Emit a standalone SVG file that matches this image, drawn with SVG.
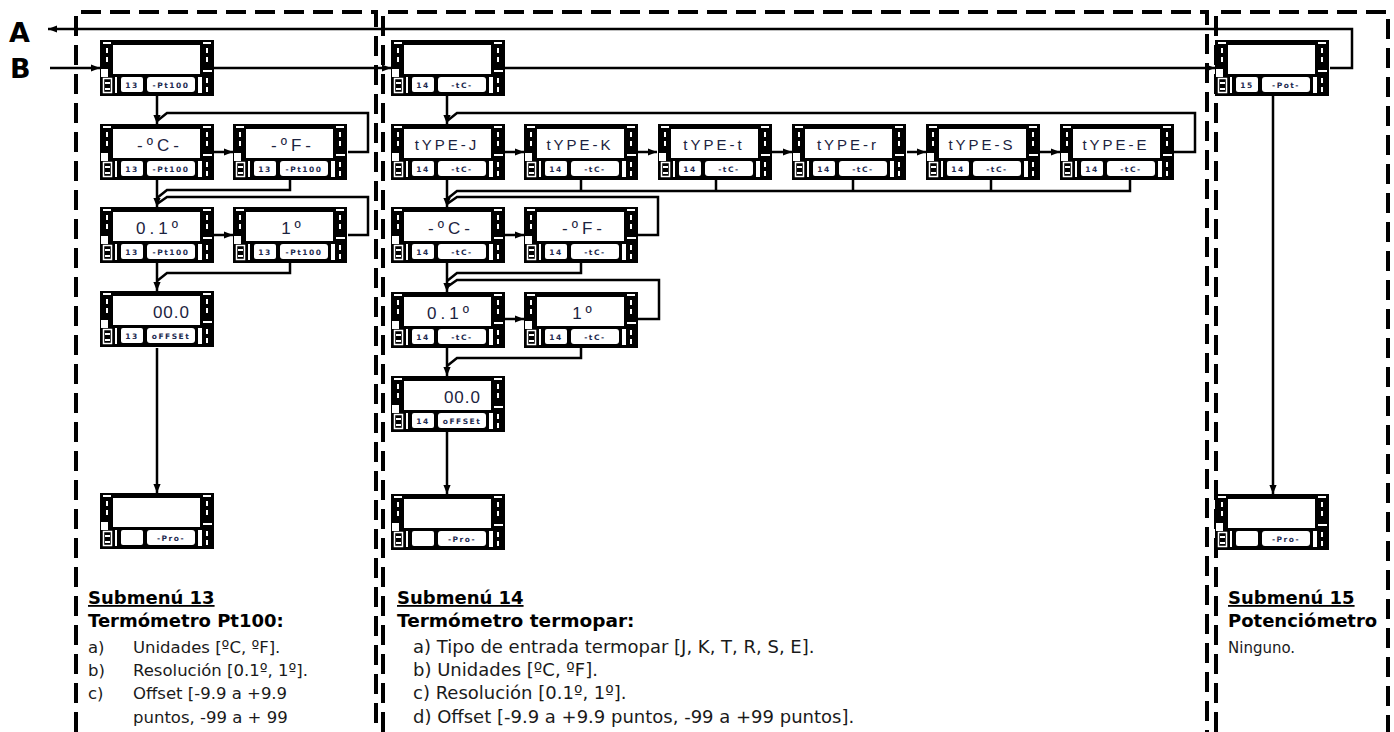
<svg xmlns="http://www.w3.org/2000/svg" xmlns:xlink="http://www.w3.org/1999/xlink" width="1394" height="732" viewBox="0 0 1394 732">
<style>
.frame{fill:none;stroke:#000;stroke-width:4;stroke-dasharray:20 9}
.c{fill:none;stroke:#000;stroke-width:2.5}
.a{marker-end:url(#ah)}
.dt{font-family:"Liberation Sans",Arial,sans-serif;font-size:15px;letter-spacing:3px;fill:#1c2340;text-anchor:middle}
.dv{font-family:"Liberation Sans",Arial,sans-serif;font-size:17px;letter-spacing:4px;fill:#1c2340;text-anchor:middle}
.dn{font-family:"Liberation Sans",Arial,sans-serif;font-size:17px;letter-spacing:1px;fill:#1c2340;text-anchor:end}
.lt{font-family:"DejaVu Sans",sans-serif;font-weight:bold;font-size:7.5px;letter-spacing:1.5px;fill:#1c2a50;text-anchor:middle}
.big{font-family:"DejaVu Sans",sans-serif;font-weight:bold;font-size:27px;fill:#000}
.h{font-family:"DejaVu Sans",sans-serif;font-weight:bold;font-size:18px;fill:#000}
.u{text-decoration:underline}
.t{font-family:"DejaVu Sans",sans-serif;font-size:16.5px;fill:#1a1a1a}
.tm{font-family:"DejaVu Sans",sans-serif;font-size:18px;fill:#1a1a1a}
</style>
<defs>
<marker id="ah" viewBox="0 0 10 10" refX="10" refY="5" markerWidth="9" markerHeight="9" markerUnits="userSpaceOnUse" orient="auto">
<path d="M0,1 L10,5 L0,9 z" fill="#000"/>
</marker>
<g id="disp">
<rect width="114" height="56" fill="#000"/>
<rect x="13" y="5" width="87" height="29" fill="#fff"/>
<rect x="3" y="2" width="8" height="2" fill="#fff"/>
<rect x="6" y="8" width="2" height="5" fill="#fff"/>
<rect x="6" y="17" width="2" height="5" fill="#fff"/>
<rect x="1" y="29" width="7" height="8" fill="#fff"/>
<rect x="3.5" y="38.5" width="8" height="14" fill="none" stroke="#fff" stroke-width="1.5"/>
<rect x="5" y="42" width="5" height="2" fill="#fff"/>
<rect x="5" y="48" width="5" height="2" fill="#fff"/>
<rect x="15" y="37" width="2" height="16" fill="#fff"/>
<rect x="21" y="37" width="22" height="15" rx="2" fill="#fff"/>
<rect x="47" y="37" width="48" height="15" rx="3" fill="#fff"/>
<rect x="98" y="37" width="4" height="16" fill="#fff"/>
<rect x="103" y="2" width="8" height="2" fill="#fff"/>
<rect x="106" y="8" width="2" height="5" fill="#fff"/>
<rect x="106" y="17" width="2" height="5" fill="#fff"/>
<rect x="103" y="30" width="9" height="2" fill="#fff"/>
<rect x="106" y="38" width="2" height="5" fill="#fff"/>
<rect x="106" y="47" width="2" height="5" fill="#fff"/>
</g>
</defs>
<rect width="1394" height="732" fill="#fff"/>

<g id="frames">
<path class="frame" d="M76,732 V12 H376 V732"/>
<path class="frame" d="M383,732 V12 H1207 V732"/>
<path class="frame" d="M1216,732 V12 H1388 V732"/>
</g>

<g id="labels-AB">
<text class="big" x="9" y="42">A</text>
<text class="big" x="10" y="78">B</text>
</g>

<g id="connectors">
<path class="c a" d="M1330,68 H1352 V29 H48"/>
<path class="c a" d="M50,68 H100"/>
<path class="c a" d="M214,68 H391"/>
<path class="c a" d="M504,68 H1215"/>
<!-- column 13 -->
<path class="c a" d="M157,96 V124"/>
<path class="c a" d="M214,152 H233"/>
<path class="c" d="M348,152 H368 V113 H167 L157,121"/>
<path class="c a" d="M157,180 V207"/>
<path class="c" d="M290,180 V190 H167 L157,198"/>
<path class="c a" d="M214,235 H233"/>
<path class="c" d="M348,235 H368 V197 H167 L157,204"/>
<path class="c a" d="M157,263 V291"/>
<path class="c" d="M290,263 V273 H167 L157,281"/>
<path class="c a" d="M157,348 V493"/>
<!-- column 14 -->
<path class="c a" d="M447,96 V124"/>
<path class="c a" d="M504,152 H524"/>
<path class="c a" d="M638,152 H657"/>
<path class="c a" d="M772,152 H792"/>
<path class="c a" d="M907,152 H926"/>
<path class="c a" d="M1039,152 H1060"/>
<path class="c" d="M1173,152 H1195 V113 H457 L447,121"/>
<path class="c a" d="M447,180 V207"/>
<path class="c" d="M1130,180 V191 H457 L447,199"/>
<path class="c" d="M581,180 V191 M716,180 V191 M853,180 V191 M991,180 V191"/>
<path class="c a" d="M504,235 H524"/>
<path class="c" d="M638,235 H658 V197 H457 L447,204"/>
<path class="c a" d="M447,263 V292"/>
<path class="c" d="M581,263 V273 H457 L447,281"/>
<path class="c a" d="M504,319 H524"/>
<path class="c" d="M638,319 H659 V280 H457 L447,287"/>
<path class="c a" d="M447,348 V376"/>
<path class="c" d="M581,348 V358 H457 L447,366"/>
<path class="c a" d="M447,431 V494"/>
<!-- column 15 -->
<path class="c a" d="M1273,96 V494"/>
</g>

<!-- Submenu 13 nodes -->
<g id="n13-start" transform="translate(100,40)"><use xlink:href="#disp"/><text class="lt" x="32" y="48">13</text><text class="lt" x="71" y="48">-Pt100</text></g>
<g id="n13-C" transform="translate(100,124)"><use xlink:href="#disp"/><text class="dv" x="60" y="27">-ºC-</text><text class="lt" x="32" y="48">13</text><text class="lt" x="71" y="48">-Pt100</text></g>
<g id="n13-F" transform="translate(233,124)"><use xlink:href="#disp"/><text class="dv" x="60" y="27">-ºF-</text><text class="lt" x="32" y="48">13</text><text class="lt" x="71" y="48">-Pt100</text></g>
<g id="n13-01" transform="translate(100,207)"><use xlink:href="#disp"/><text class="dv" x="59" y="27">0.1º</text><text class="lt" x="32" y="48">13</text><text class="lt" x="71" y="48">-Pt100</text></g>
<g id="n13-1" transform="translate(233,207)"><use xlink:href="#disp"/><text class="dv" x="60" y="27">1º</text><text class="lt" x="32" y="48">13</text><text class="lt" x="71" y="48">-Pt100</text></g>
<g id="n13-off" transform="translate(100,291)"><use xlink:href="#disp"/><text class="dn" x="90" y="27">00.0</text><text class="lt" x="32" y="48">13</text><text class="lt" x="71" y="48">oFFSEt</text></g>
<g id="n13-pro" transform="translate(100,493)"><use xlink:href="#disp"/><text class="lt" x="71" y="48">-Pro-</text></g>

<!-- Submenu 14 nodes -->
<g id="n14-start" transform="translate(391,40)"><use xlink:href="#disp"/><text class="lt" x="32" y="48">14</text><text class="lt" x="71" y="48">-tC-</text></g>
<g id="n14-J" transform="translate(391,124)"><use xlink:href="#disp"/><text class="dt" x="56" y="26">tYPE-J</text><text class="lt" x="32" y="48">14</text><text class="lt" x="71" y="48">-tC-</text></g>
<g id="n14-K" transform="translate(524,124)"><use xlink:href="#disp"/><text class="dt" x="56" y="26">tYPE-K</text><text class="lt" x="32" y="48">14</text><text class="lt" x="71" y="48">-tC-</text></g>
<g id="n14-t" transform="translate(658,124)"><use xlink:href="#disp"/><text class="dt" x="56" y="26">tYPE-t</text><text class="lt" x="32" y="48">14</text><text class="lt" x="71" y="48">-tC-</text></g>
<g id="n14-r" transform="translate(792,124)"><use xlink:href="#disp"/><text class="dt" x="56" y="26">tYPE-r</text><text class="lt" x="32" y="48">14</text><text class="lt" x="71" y="48">-tC-</text></g>
<g id="n14-S" transform="translate(926,124)"><use xlink:href="#disp"/><text class="dt" x="56" y="26">tYPE-S</text><text class="lt" x="32" y="48">14</text><text class="lt" x="71" y="48">-tC-</text></g>
<g id="n14-E" transform="translate(1060,124)"><use xlink:href="#disp"/><text class="dt" x="56" y="26">tYPE-E</text><text class="lt" x="32" y="48">14</text><text class="lt" x="71" y="48">-tC-</text></g>
<g id="n14-C" transform="translate(391,207)"><use xlink:href="#disp"/><text class="dv" x="60" y="27">-ºC-</text><text class="lt" x="32" y="48">14</text><text class="lt" x="71" y="48">-tC-</text></g>
<g id="n14-F" transform="translate(524,207)"><use xlink:href="#disp"/><text class="dv" x="60" y="27">-ºF-</text><text class="lt" x="32" y="48">14</text><text class="lt" x="71" y="48">-tC-</text></g>
<g id="n14-01" transform="translate(391,292)"><use xlink:href="#disp"/><text class="dv" x="59" y="27">0.1º</text><text class="lt" x="32" y="48">14</text><text class="lt" x="71" y="48">-tC-</text></g>
<g id="n14-1" transform="translate(524,292)"><use xlink:href="#disp"/><text class="dv" x="60" y="27">1º</text><text class="lt" x="32" y="48">14</text><text class="lt" x="71" y="48">-tC-</text></g>
<g id="n14-off" transform="translate(391,376)"><use xlink:href="#disp"/><text class="dn" x="90" y="27">00.0</text><text class="lt" x="32" y="48">14</text><text class="lt" x="71" y="48">oFFSEt</text></g>
<g id="n14-pro" transform="translate(391,494)"><use xlink:href="#disp"/><text class="lt" x="71" y="48">-Pro-</text></g>

<!-- Submenu 15 nodes -->
<g id="n15-start" transform="translate(1215,40)"><use xlink:href="#disp"/><text class="lt" x="32" y="48">15</text><text class="lt" x="71" y="48">-Pot-</text></g>
<g id="n15-pro" transform="translate(1215,494)"><use xlink:href="#disp"/><text class="lt" x="71" y="48">-Pro-</text></g>

<!-- descriptions -->
<g id="desc13">
<text class="h u" x="88" y="604">Submenú 13</text>
<text class="h" x="88" y="627">Termómetro Pt100:</text>
<text class="t" x="88" y="653">a)</text><text class="t" x="133" y="653">Unidades [ºC, ºF].</text>
<text class="t" x="88" y="676">b)</text><text class="t" x="133" y="676">Resolución [0.1º, 1º].</text>
<text class="t" x="88" y="699">c)</text><text class="t" x="133" y="699">Offset [-9.9 a +9.9</text>
<text class="t" x="133" y="723">puntos, -99 a + 99</text>
</g>
<g id="desc14">
<text class="h u" x="397" y="604">Submenú 14</text>
<text class="h" x="397" y="627" style="font-size:18.5px">Termómetro termopar:</text>
<text class="tm" x="413" y="653">a) Tipo de entrada termopar [J, K, T, R, S, E].</text>
<text class="tm" x="413" y="676">b) Unidades [ºC, ºF].</text>
<text class="tm" x="413" y="699">c) Resolución [0.1º, 1º].</text>
<text class="tm" x="413" y="723">d) Offset [-9.9 a +9.9 puntos, -99 a +99 puntos].</text>
</g>
<g id="desc15">
<text class="h u" x="1228" y="604">Submenú 15</text>
<text class="h" x="1228" y="627">Potenciómetro</text>
<text class="t" x="1228" y="653" style="font-size:15px">Ninguno.</text>
</g>
</svg>
